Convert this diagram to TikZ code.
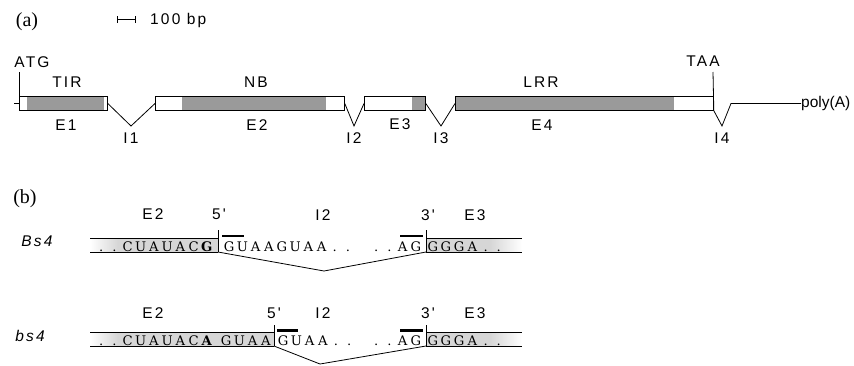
\documentclass[tikz,border=0pt]{standalone}
\usepackage{fontspec}
\setmainfont{Liberation Serif}
\newfontfamily\lsans[LetterSpace=14]{Liberation Sans}
\newfontfamily\nsans{Liberation Sans}
\newfontfamily\seqfont{DejaVu Serif}
\makeatletter
\newcommand\seqs[1]{\@tfor\@nx:=#1\do{\makebox[13.2pt][c]{\@nx}}}
\makeatother
\newcommand\bseq[1]{\makebox[13.2pt][c]{\bfseries #1}}
\definecolor{dg}{HTML}{9A9A9A}
\definecolor{lg}{HTML}{D6D6D6}
\begin{document}
\begin{tikzpicture}[x=1pt,y=-1pt,
  lab/.style={font=\lsans\fontsize{15.5}{17}\selectfont, inner sep=0},
  plab/.style={font=\fontsize{20}{22}\selectfont, inner sep=0},
  exon/.style={draw, line width=0.8pt, minimum height=13.5pt, inner sep=0, anchor=west},
  ln/.style={line width=0.8pt},
  seq/.style={font=\seqfont\fontsize{13.2}{15}\selectfont, inner sep=0, anchor=base west},
  bar/.style={line width=2.2pt}]
\useasboundingbox (0,0) rectangle (854,365);
% ---------- panel (a)
\node[plab] (pa) at (27,22) {(a)};
\draw[ln] (117,16) -- (117,22.5) (117,19) -- (135,19) (135,16) -- (135,22.5);
\node[lab, anchor=west] (scale) at (150,20) {100 bp};
% exon fills
\fill[dg] (27,96.75) rectangle (104,110.25);
\fill[dg] (182,96.75) rectangle (326,110.25);
\fill[dg] (412,96.75) rectangle (425,110.25);
\fill[dg] (455,96.75) rectangle (674,110.25);
% exon boxes
\node[exon, minimum width=88pt] (e1) at (19,103.5) {};
\node[exon, minimum width=189pt] (e2) at (155,103.5) {};
\node[exon, minimum width=61pt] (e3) at (364,103.5) {};
\node[exon, minimum width=258pt] (e4) at (455,103.5) {};
% start/stop
\coordinate (atgtop) at (19,72);
\coordinate (taatop) at (713,72);
\coordinate (tick) at (14,103.5);
\draw[ln] (atgtop) -- (e1.south west);
\draw[ln] (tick) -- (e1.west);
\draw[ln] (taatop) -- (e4.south east);
% introns
\coordinate (i1) at (131,126);
\coordinate (i2) at (354,126);
\coordinate (i3) at (441,126);
\coordinate (i4) at (722,126);
\coordinate (i4r) at (731,103.5);
\draw[ln] (e1.east) -- (i1) -- (e2.west);
\draw[ln] (e2.east) -- (i2) -- (e3.west);
\draw[ln] (e3.east) -- (i3) -- (e4.west);
\node[inner sep=0, font=\nsans\fontsize{15.5}{17}\selectfont, anchor=west] (polya) at (801,103.5) {poly(A)};
\draw[ln] (e4.south east) -- (i4) -- (i4r) -- (polya.west);
% labels
\node[lab] (latg) at (32,62) {ATG};
\node[lab] (ltaa) at (703,61) {TAA};
\node[lab] (ltir) at (67,82) {TIR};
\node[lab] (lnb) at (256,82) {NB};
\node[lab] (llrr) at (541,82) {LRR};
\node[lab] (le1) at (66,125) {E1};
\node[lab] (le2) at (257,125) {E2};
\node[lab] (le3) at (400,124) {E3};
\node[lab] (le4) at (542,125) {E4};
\node[lab] (li1) at (131,138) {I1};
\node[lab] (li2) at (354,138) {I2};
\node[lab] (li3) at (441,138) {I3};
\node[lab] (li4) at (722,138) {I4};
% ---------- panel (b)
\node[plab] (pb) at (25,199) {(b)};
% row Bs4
\node[lab, font=\lsans\itshape\fontsize{15.5}{17}\selectfont] (bs) at (37,241) {Bs4};
\node[lab] (r1e2) at (153,214) {E2};
\node[lab] (r1f) at (219,214) {5'};
\node[lab] (r1i2) at (323,215) {I2};
\node[lab] (r1t) at (428,215) {3'};
\node[lab] (r1e3) at (475,215) {E3};
\shade[left color=white, right color=lg] (90,238) rectangle (118,252);
\fill[lg] (118,238) rectangle (218,252);
\fill[lg] (426,238) rectangle (490,252);
\shade[left color=lg, right color=white] (490,238) rectangle (522,252);
\draw[ln] (90,238) -- (218,238) (90,252) -- (218,252);
\draw[ln] (426,238) -- (522,238) (426,252) -- (522,252);
\coordinate (f1top) at (218,230);
\coordinate (f1) at (218,252);
\coordinate (t1top) at (426,230);
\coordinate (t1) at (426,252);
\coordinate (v1) at (324,271);
\draw[ln] (f1top) -- (f1);
\draw[ln] (t1top) -- (t1);
\draw[ln] (f1) -- (v1) -- (t1);
\node[seq] (sa) at (94.4,251.3) {\seqs{..CUAUAC}\bseq{G}};
\node[seq] (sb) at (222.4,251.3) {\seqs{GUAAGUAA..}};
\node[seq] (sc) at (369.4,251.3) {\seqs{..AG}};
\node[seq] (sd) at (426,251.3) {\seqs{GGGA..}};
\draw[bar] (222,236.3) -- (244,236.3);
\draw[bar] (400,236.3) -- (423,236.3);
% row bs4
\node[lab, font=\lsans\itshape\fontsize{15.5}{17}\selectfont] (bsm) at (30,336) {bs4};
\node[lab] (r2e2) at (153,313) {E2};
\node[lab] (r2f) at (274,313) {5'};
\node[lab] (r2i2) at (323,313) {I2};
\node[lab] (r2t) at (428,313) {3'};
\node[lab] (r2e3) at (475,313) {E3};
\shade[left color=white, right color=lg] (90,332) rectangle (118,346);
\fill[lg] (118,332) rectangle (274,346);
\fill[lg] (426,332) rectangle (490,346);
\shade[left color=lg, right color=white] (490,332) rectangle (522,346);
\draw[ln] (90,332) -- (274,332) (90,346) -- (274,346);
\draw[ln] (426,332) -- (522,332) (426,346) -- (522,346);
\coordinate (f2top) at (274,325);
\coordinate (f2) at (274,346);
\coordinate (t2top) at (426,325);
\coordinate (t2) at (426,346);
\coordinate (v2) at (320,364);
\draw[ln] (f2top) -- (f2);
\draw[ln] (t2top) -- (t2);
\draw[ln] (f2) -- (v2) -- (t2);
\node[seq] (ta) at (94.4,345.3) {\seqs{..CUAUAC}\bseq{A}};
\node[seq] (tb) at (219.4,345.3) {\seqs{GUAA}};
\node[seq] (tc) at (276.4,345.3) {\seqs{GUAA..}};
\node[seq] (td) at (369.4,345.3) {\seqs{..AG}};
\node[seq] (te) at (426,345.3) {\seqs{GGGA..}};
\draw[bar] (277,330.5) -- (298,330.5);
\draw[bar] (400,330.5) -- (423,330.5);
\end{tikzpicture}
\end{document}
